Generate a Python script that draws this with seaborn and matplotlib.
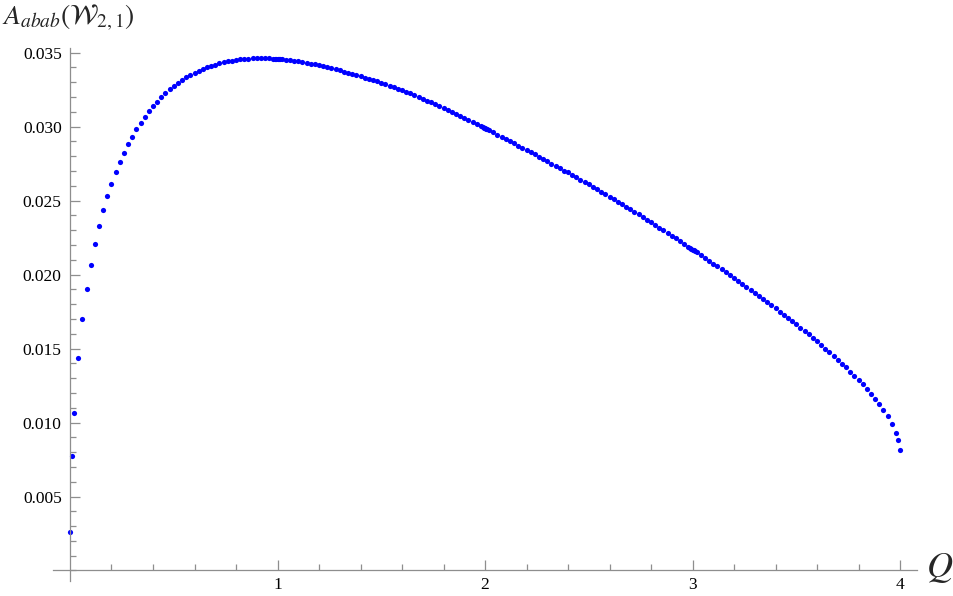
import pandas as pd
import seaborn as sns
import matplotlib.pyplot as plt
import numpy as np
from matplotlib.ticker import MultipleLocator, FixedLocator

## DATA ##
# first few samples near Q = 0 are closer together
q_start = [0.0, 0.01, 0.02]
a_start = [0.00258, 0.00776, 0.01064]

# main samples, step 0.02 from 0.04 to 3.98
q_main = [
    0.04, 0.06, 0.08, 0.10, 0.12, 0.14, 0.16, 0.18, 0.20, 0.22, 0.24, 0.26, 0.28, 0.30, 0.32, 0.34, 0.36, 0.38, 0.40,
    0.42, 0.44, 0.46, 0.48, 0.50, 0.52, 0.54, 0.56, 0.58, 0.60, 0.62, 0.64, 0.66, 0.68, 0.70, 0.72, 0.74, 0.76, 0.78, 0.80,
    0.82, 0.84, 0.86, 0.88, 0.90, 0.92, 0.94, 0.96, 0.98, 1.00, 1.02, 1.04, 1.06, 1.08, 1.10, 1.12, 1.14, 1.16, 1.18, 1.20,
    1.22, 1.24, 1.26, 1.28, 1.30, 1.32, 1.34, 1.36, 1.38, 1.40, 1.42, 1.44, 1.46, 1.48, 1.50, 1.52, 1.54, 1.56, 1.58, 1.60,
    1.62, 1.64, 1.66, 1.68, 1.70, 1.72, 1.74, 1.76, 1.78, 1.80, 1.82, 1.84, 1.86, 1.88, 1.90, 1.92, 1.94, 1.96, 1.98, 2.00,
    2.02, 2.04, 2.06, 2.08, 2.10, 2.12, 2.14, 2.16, 2.18, 2.20, 2.22, 2.24, 2.26, 2.28, 2.30, 2.32, 2.34, 2.36, 2.38, 2.40,
    2.42, 2.44, 2.46, 2.48, 2.50, 2.52, 2.54, 2.56, 2.58, 2.60, 2.62, 2.64, 2.66, 2.68, 2.70, 2.72, 2.74, 2.76, 2.78, 2.80,
    2.82, 2.84, 2.86, 2.88, 2.90, 2.92, 2.94, 2.96, 2.98, 3.00, 3.02, 3.04, 3.06, 3.08, 3.10, 3.12, 3.14, 3.16, 3.18, 3.20,
    3.22, 3.24, 3.26, 3.28, 3.30, 3.32, 3.34, 3.36, 3.38, 3.40, 3.42, 3.44, 3.46, 3.48, 3.50, 3.52, 3.54, 3.56, 3.58, 3.60,
    3.62, 3.64, 3.66, 3.68, 3.70, 3.72, 3.74, 3.76, 3.78, 3.80, 3.82, 3.84, 3.86, 3.88, 3.90, 3.92, 3.94, 3.96, 3.98,
]
a_main = [
    0.01436, 0.01697, 0.01900, 0.02066, 0.02208, 0.02330, 0.02436, 0.02530, 0.02614, 0.02691, 0.02760, 0.02821, 0.02880,
    0.02931, 0.02981, 0.03024, 0.03064, 0.03103, 0.03137, 0.03168, 0.03197, 0.03224, 0.03251, 0.03274, 0.03294, 0.03314,
    0.03332, 0.03348, 0.03364, 0.03377, 0.03389, 0.03400, 0.03410, 0.03419, 0.03427, 0.03434, 0.03441, 0.03446, 0.03451,
    0.03455, 0.03458, 0.03460, 0.03462, 0.03463, 0.03463, 0.03463, 0.03462, 0.03460, 0.03458, 0.03455, 0.03452, 0.03449,
    0.03445, 0.03441, 0.03436, 0.03431, 0.03426, 0.03420, 0.03414, 0.03407, 0.03401, 0.03394, 0.03387, 0.03379, 0.03372,
    0.03364, 0.03356, 0.03347, 0.03339, 0.03330, 0.03322, 0.03314, 0.03305, 0.03296, 0.03287, 0.03277, 0.03267, 0.03257,
    0.03246, 0.03235, 0.03224, 0.03212, 0.03200, 0.03188, 0.03176, 0.03163, 0.03150, 0.03137, 0.03124, 0.03111, 0.03098,
    0.03085, 0.03071, 0.03058, 0.03044, 0.03030, 0.03016, 0.03002, 0.02988, 0.02974, 0.02960, 0.02945, 0.02931, 0.02916,
    0.02901, 0.02887, 0.02872, 0.02857, 0.02842, 0.02827, 0.02812, 0.02797, 0.02781, 0.02766, 0.02750, 0.02734, 0.02718,
    0.02702, 0.02690, 0.02674, 0.02658, 0.02642, 0.02626, 0.02610, 0.02594, 0.02578, 0.02561, 0.02544, 0.02527, 0.02510,
    0.02493, 0.02476, 0.02459, 0.02442, 0.02424, 0.02407, 0.02389, 0.02371, 0.02353, 0.02335, 0.02317, 0.02299, 0.02281,
    0.02263, 0.02245, 0.02226, 0.02207, 0.02188, 0.02169, 0.02150, 0.02131, 0.02112, 0.02093, 0.02074, 0.02055, 0.02035,
    0.02016, 0.01996, 0.01976, 0.01956, 0.01936, 0.01916, 0.01896, 0.01875, 0.01855, 0.01834, 0.01813, 0.01792, 0.01771,
    0.01750, 0.01728, 0.01707, 0.01685, 0.01663, 0.01641, 0.01618, 0.01595, 0.01572, 0.01548, 0.01524, 0.01500, 0.01475,
    0.01450, 0.01424, 0.01398, 0.01372, 0.01344, 0.01316, 0.01287, 0.01257, 0.01226, 0.01194, 0.01160, 0.01124, 0.01085,
    0.01042, 0.00992, 0.00932,
]

# end point and the denser samples seen around Q = 1, 2, 3
q_extra = [3.99, 4.00, 0.99, 0.995, 1.005, 1.01, 1.99, 1.995, 2.005, 2.01, 2.99, 2.995, 3.005, 3.01]
a_extra = [0.00885, 0.00812, 0.03459, 0.03459, 0.03457, 0.03457, 0.02995, 0.02991, 0.02984, 0.02981,
           0.02179, 0.02174, 0.02164, 0.02160]

df = pd.DataFrame({'Q': q_start + q_main + q_extra, 'A': a_start + a_main + a_extra})

## PLOT ##
sns.set_style('white')
plt.rcParams['font.family'] = ['Liberation Serif', 'DejaVu Serif']
plt.rcParams['mathtext.fontset'] = 'stix'

fig = plt.figure(figsize=(9.54, 5.96), dpi=100)
# axes box in pixels: x from 53.4 to 916.6, y from 48 to 581 (top-down)
ax = fig.add_axes([53.4 / 954, 1 - 581 / 596, (916.6 - 53.4) / 954, 533 / 596])

sns.scatterplot(data=df, x='Q', y='A', ax=ax, color='#0000ff', s=14, linewidth=0, legend=False)

ax.set_xlim(-0.08, 4.08)
ax.set_ylim(-0.00071, 0.03531)
ax.set_xlabel('')
ax.set_ylabel('')

axis_col = '#8e8e8e'
for s in ['top', 'right']:
    ax.spines[s].set_visible(False)
ax.spines['left'].set_position(('data', 0))
ax.spines['bottom'].set_position(('data', 0))
for s in ['left', 'bottom']:
    ax.spines[s].set_color(axis_col)
    ax.spines[s].set_linewidth(0.9)

ax.xaxis.set_major_locator(FixedLocator([1, 2, 3, 4]))
ax.xaxis.set_minor_locator(FixedLocator([0.2, 0.4, 0.6, 0.8, 1.2, 1.4, 1.6, 1.8, 2.2, 2.4, 2.6, 2.8,
                                         3.2, 3.4, 3.6, 3.8]))
ax.yaxis.set_major_locator(FixedLocator([0.005, 0.010, 0.015, 0.020, 0.025, 0.030, 0.035]))
ax.yaxis.set_minor_locator(MultipleLocator(0.001))
ax.set_yticklabels(['0.005', '0.010', '0.015', '0.020', '0.025', '0.030', '0.035'])

# seaborn's white style switches the tick marks off, turn them back on
ax.tick_params(which='both', bottom=True, left=True, top=False, right=False,
               direction='in', colors=axis_col, labelcolor='black', width=0.9, labelsize=12.5)
ax.tick_params(which='major', length=7)
ax.tick_params(which='minor', length=4)
ax.tick_params(axis='y', pad=6)
ax.tick_params(axis='x', pad=5)

fig.text(2 / 954, 1 - 3 / 596, r'$A_{abab}(\mathcal{W}_{2,1})$', fontsize=20, ha='left', va='top')
fig.text(940 / 954, 1 - 568 / 596, r'$Q$', fontsize=26, ha='center', va='center')

plt.savefig('out.png', dpi=100)
